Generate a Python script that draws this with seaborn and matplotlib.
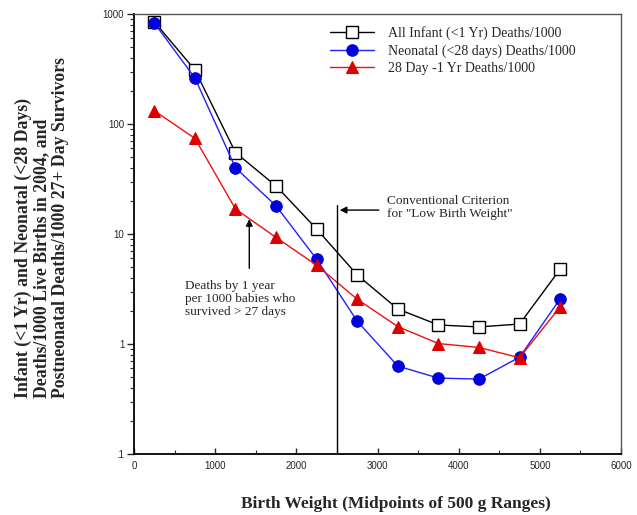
import matplotlib
matplotlib.use("Agg")
import matplotlib.pyplot as plt
import seaborn as sns
import pandas as pd
from matplotlib.ticker import FixedLocator, FixedFormatter, NullFormatter, MultipleLocator

weights = [250, 750, 1250, 1750, 2250, 2750, 3250, 3750, 4250, 4750, 5250]
all_infant = [850, 310, 55, 27.3, 11.1, 4.24, 2.08, 1.49, 1.43, 1.52, 4.8]
neonatal = [830, 262, 40, 18, 5.9, 1.61, 0.63, 0.49, 0.48, 0.76, 2.58]
postneonatal = [132, 74, 16.9, 9.3, 5.2, 2.55, 1.44, 1.01, 0.93, 0.75, 2.18]

labels = ["All Infant (<1 Yr) Deaths/1000",
          "Neonatal (<28 days) Deaths/1000",
          "28 Day -1 Yr Deaths/1000"]
y_ticks = [0.1, 1, 10, 100, 1000]
y_ticklabels = [".1", "1", "10", "100", "1000"]
x_ticks = [0, 1000, 2000, 3000, 4000, 5000, 6000]

sns.set_style("ticks")
plt.rcParams['font.family'] = ['Liberation Serif', 'DejaVu Serif']

fig = plt.figure(figsize=(6.37, 5.15), dpi=100)
ax = fig.add_axes([0.2104, 0.1184, 0.7646, 0.8544])

series = [all_infant, neonatal, postneonatal]
styles = [
    dict(color="black", marker="s", markerfacecolor="white", markeredgecolor="black", markersize=8, markeredgewidth=1.0),
    dict(color="#2020ff", marker="o", markerfacecolor="#0000dd", markeredgecolor="#0000dd", markersize=8.3),
    dict(color="#ee1111", marker="^", markerfacecolor="#dd0000", markeredgecolor="#dd0000", markersize=8.5),
]
for vals, lab, st in zip(series, labels, styles):
    df = pd.DataFrame({"w": weights, "v": vals})
    sns.lineplot(data=df, x="w", y="v", ax=ax, label=lab, linewidth=1.0, **st)

ax.set_yscale("log")
ax.set_ylim(0.1, 1000)
ax.set_xlim(0, 6000)
ax.yaxis.set_major_locator(FixedLocator(y_ticks))
ax.yaxis.set_major_formatter(FixedFormatter(y_ticklabels))
ax.yaxis.set_minor_formatter(NullFormatter())
ax.xaxis.set_major_locator(FixedLocator(x_ticks))
ax.xaxis.set_minor_locator(MultipleLocator(500))

for lbl in ax.get_xticklabels() + ax.get_yticklabels():
    lbl.set_fontfamily("Liberation Sans")
    lbl.set_fontsize(7)

ax.tick_params(axis="y", which="major", direction="out", length=5, width=1.0, pad=2)
ax.tick_params(axis="y", which="minor", direction="out", length=3, width=0.8)
ax.tick_params(axis="x", which="major", direction="in", length=4, width=1.0, pad=5)
ax.tick_params(axis="x", which="minor", direction="in", length=3, width=0.8)

for s in ["left", "bottom"]:
    ax.spines[s].set_color("black")
    ax.spines[s].set_linewidth(1.3)
for s in ["top", "right"]:
    ax.spines[s].set_color("#555555")
    ax.spines[s].set_linewidth(1.0)

# criterion line
ax.plot([2500, 2500], [0.1, 18.5], color="black", linewidth=1.0)
ax.annotate("", xy=(2500, 16.5), xytext=(3050, 16.5),
            arrowprops=dict(arrowstyle="-|>", color="black", lw=1.0, mutation_scale=10))
ax.text(3120, 17.5, "Conventional Criterion\nfor \"Low Birth Weight\"", fontsize=9.5,
        va="center", ha="left", linespacing=1.05)

ax.annotate("", xy=(1420, 14.5), xytext=(1420, 4.6),
            arrowprops=dict(arrowstyle="-|>", color="black", lw=1.0, mutation_scale=10))
ax.text(630, 2.55, "Deaths by 1 year\nper 1000 babies who\nsurvived > 27 days", fontsize=9.5,
        va="center", ha="left", linespacing=1.1)

leg = ax.legend(loc="upper left", bbox_to_anchor=(0.39, 0.985), frameon=False,
                fontsize=10, handlelength=3.2, handletextpad=1.0, labelspacing=0.3,
                borderaxespad=0)

ax.set_xlabel("Birth Weight (Midpoints of 500 g Ranges)", fontsize=12.5, fontweight="bold")
ax.set_ylabel("Infant (<1 Yr) and Neonatal (<28 Days)\nDeaths/1000 Live Births in 2004, and\nPostneonatal Deaths/1000 27+ Day Survivors",
              fontsize=12.8, fontweight="bold", linespacing=1.12, multialignment="left")
ax.xaxis.set_label_coords(0.538, -0.0955)
ax.yaxis.set_label_coords(-0.1335, 0.515)

fig.savefig("out.png", dpi=100)
